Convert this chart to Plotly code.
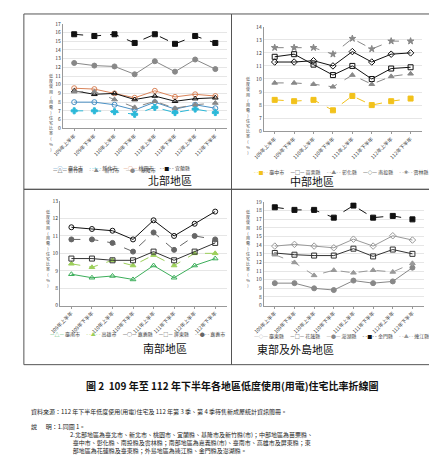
import plotly.graph_objects as go

periods = ["109年上半年","109年下半年","110年上半年","110年下半年","111年上半年","111年下半年","112年上半年","112年下半年"]

north_names = ["臺北市","新北市","桃園市","宜蘭縣","新竹縣","新竹市","基隆市"]
north_vals = [
    [8.0, 8.0, 7.7, 7.1, 8.0, 7.2, 7.7, 7.3],
    [7.0, 7.0, 6.9, 6.6, 7.4, 6.8, 7.2, 6.8],
    [9.6, 9.5, 9.0, 8.5, 9.3, 8.6, 8.9, 8.7],
    [15.8, 15.6, 15.8, 14.8, 15.8, 14.7, 15.6, 14.8],
    [9.3, 8.9, 9.0, 8.3, 8.7, 8.1, 8.4, 8.5],
    [9.2, 9.2, 8.3, 7.4, 8.1, 7.3, 7.7, 7.9],
    [12.5, 12.2, 12.1, 11.2, 12.7, 11.5, 12.9, 11.8],
]
central_names = ["臺中市","苗栗縣","彰化縣","南投縣","雲林縣"]
central_vals = [
    [8.4, 8.3, 8.4, 7.6, 8.7, 8.0, 8.3, 8.5],
    [11.7, 11.9, 11.1, 10.3, 11.0, 10.0, 10.8, 10.9],
    [9.7, 9.7, 9.6, 9.4, 10.3, 9.6, 10.2, 10.4],
    [11.3, 11.3, 11.4, 11.0, 12.1, 11.3, 11.9, 12.0],
    [12.4, 12.4, 12.4, 11.9, 13.1, 12.3, 12.9, 12.9],
]
south_names = ["臺南市","高雄市","嘉義縣","屏東縣","嘉義市"]
south_vals = [
    [8.8, 8.6, 8.7, 8.5, 9.3, 8.6, 9.3, 9.7],
    [9.4, 9.2, 9.6, 9.3, 9.9, 9.3, 10.0, 10.0],
    [11.5, 11.4, 11.3, 10.8, 11.9, 11.0, 11.7, 12.4],
    [9.7, 9.7, 9.6, 9.6, 10.1, 9.6, 10.1, 10.6],
    [10.8, 10.8, 10.6, 10.1, 11.2, 10.2, 11.0, 10.8],
]
east_names = ["臺東縣","花蓮縣","澎湖縣","金門縣","連江縣"]
east_vals = [
    [13.9, 14.1, 13.9, 13.7, 14.7, 13.9, 15.1, 14.6],
    [13.1, 12.9, 12.8, 12.8, 13.6, 12.7, 13.5, 13.0],
    [9.6, 9.6, 9.0, 8.8, 9.9, 9.6, 9.8, 11.4],
    [18.4, 18.1, 18.1, 17.2, 18.6, 17.2, 17.4, 17.0],
    [12.9, 12.0, 10.5, 11.1, 10.8, 11.1, 10.9, 11.9],
]

north_sty = [("#4a90c4","solid","circle-open"),("#2ab8d8","dash","cross"),
             ("#d9845a","solid","circle-open"),("#111111","dash","square"),
             ("#111111","solid","triangle-up-open"),("#888888","dash","triangle-up"),
             ("#888888","solid","circle")]
central_sty = [("#f2c21b","dash","square"),("#111111","solid","square-open"),
               ("#888888","dash","triangle-up"),("#111111","solid","diamond-open"),
               ("#888888","dash","star")]
south_sty = [("#3cae5a","solid","triangle-up-open"),("#9ccf5a","dash","triangle-up"),
             ("#111111","solid","circle-open"),("#333333","solid","square-open"),
             ("#666666","dash","circle")]
east_sty = [("#999999","solid","diamond-open"),("#333333","solid","square-open"),
            ("#888888","solid","circle"),("#111111","dash","square"),
            ("#999999","dash","triangle-up")]
glyph = {"circle-open":"○","circle":"●","square":"■","square-open":"□","triangle-up":"▲",
         "triangle-up-open":"△","diamond-open":"◇","cross":"+","star":"✱"}

W, H = 437, 470
def px(x): return x / W
def py(y): return 1 - y / H

fig = go.Figure()
font = "Noto Sans CJK TC"
panels = [
    ("", north_names, north_vals, north_sty, (45, 213, 12, 118), 6, 17, [152, 160], "北部地區", 171, 130),
    ("2", central_names, central_vals, central_sty, (251, 413, 15, 121), 7, 14, [156], "中部地區", 172, 325),
    ("3", south_names, south_vals, south_sty, (42, 213, 192, 298), 8, 13, [333], "南部地區", 351, 125),
    ("4", east_names, east_vals, east_sty, (251, 415, 193, 298), 8, 19, [335], "東部及外島地區", 352, 325),
]
annotations = []
for sfx, names, vals, stys, (x0, x1, y0, y1), lo, hi, lys, title, ty, tx in panels:
    entries = []
    for n, v, (c, d, s) in zip(names, vals, stys):
        fig.add_trace(go.Scatter(x=periods, y=v, name=n, mode="lines+markers", showlegend=False,
                                 line=dict(color=c, dash=d, width=1),
                                 marker=dict(symbol=s, size=5, color=c, line=dict(color=c, width=1)),
                                 xaxis="x" + sfx, yaxis="y" + sfx))
        ln = "—" if d == "solid" else "- -"
        entries.append(f"<span style='color:{c}'>{ln}{glyph[s]}{ln}</span> {n}")
    rows = [entries] if len(lys) == 1 else [entries[:4], entries[4:]]
    for row, ly in zip(rows, lys):
        annotations.append(dict(x=px(x0 - 12), y=py(ly), xref="paper", yref="paper", xanchor="left",
                                showarrow=False, text="　 ".join(row),
                                font=dict(size=5, family=font, color="#444")))
    tv = [lo - 1] + list(range(lo, hi + 1))
    tt = ["0"] + [str(t) for t in range(lo, hi + 1)]
    fig.update_layout(**{
        "xaxis" + sfx: dict(domain=[px(x0), px(x1)], anchor="y" + sfx, tickangle=-45,
                            tickfont=dict(size=5, color="#333"), showline=True, linecolor="#999",
                            ticks="outside", ticklen=2, tickcolor="#999", showgrid=False),
        "yaxis" + sfx: dict(domain=[py(y1), py(y0)], anchor="x" + sfx, range=[lo - 1, hi],
                            tickvals=tv, ticktext=tt, tickfont=dict(size=5, color="#333"),
                            showline=True, linecolor="#999", gridcolor="#e6e6e6", zeroline=False),
    })
    annotations.append(dict(x=px(tx), y=py(ty), xref="paper", yref="paper", text=title, showarrow=False,
                            font=dict(size=11, family=font, color="#111")))
    annotations.append(dict(x=px(x0 - 16), y=py((y0 + y1) / 2 - 5), xref="paper", yref="paper",
                            text="<br>".join(list("低度使用(用電)住宅比率(%)")), showarrow=False,
                            font=dict(size=4, family=font, color="#444")))

shapes = []
for (a, b, c, d) in [(5, 218, 2, 180), (218, 432, 2, 180), (5, 218, 180, 358), (218, 432, 180, 358)]:
    shapes.append(dict(type="rect", xref="paper", yref="paper", x0=px(a), x1=px(b), y0=py(d), y1=py(c),
                       line=dict(color="#555", width=1)))

annotations += [
    dict(x=0.5, y=py(389), xref="paper", yref="paper", showarrow=False,
         text="<b>圖 2  109 年至 112 年下半年各地區低度使用(用電)住宅比率折線圖</b>",
         font=dict(size=10, family=font, color="#111")),
    dict(x=px(10), y=py(412), xref="paper", yref="paper", showarrow=False, xanchor="left",
         text="資料來源：112 年下半年低度使用(用電)住宅及 112 年第 3 季、第 4 季待售新成屋統計資訊簡冊。",
         font=dict(size=6, family=font, color="#222")),
    dict(x=px(10), y=py(427), xref="paper", yref="paper", showarrow=False, xanchor="left",
         text="說　  明：1.同圖 1。", font=dict(size=6, family=font, color="#222")),
    dict(x=px(50), y=py(452), xref="paper", yref="paper", showarrow=False, xanchor="left", align="left",
         text="2.北部地區為臺北市、新北市、桃園市、宜蘭縣、基隆市及新竹縣(市)；中部地區為苗栗縣、<br>"
              "  臺中市、彰化縣、南投縣及雲林縣；南部地區為嘉義縣(市)、臺南市、高雄市及屏東縣；東<br>"
              "  部地區為花蓮縣及臺東縣；外島地區為連江縣、金門縣及澎湖縣。",
         font=dict(size=6, family=font, color="#222")),
]

fig.update_layout(width=W, height=H, margin=dict(l=0, r=0, t=0, b=0), plot_bgcolor="white",
                  paper_bgcolor="white", font=dict(family=font), annotations=annotations, shapes=shapes,
                  showlegend=False)
fig.write_html("out.html")
